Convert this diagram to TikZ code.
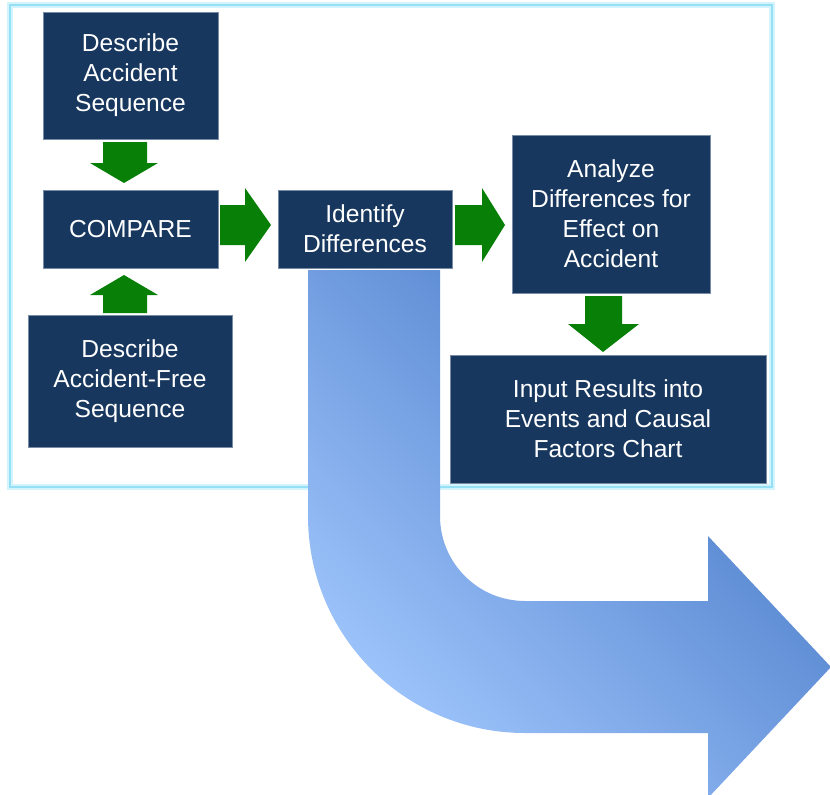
\documentclass[tikz,border=0pt]{standalone}
\usepackage{fontspec}
\setmainfont{Liberation Sans}
\definecolor{navy}{RGB}{23,55,94}
\definecolor{navyedge}{RGB}{120,140,165}
\definecolor{garrow}{RGB}{8,128,8}
\definecolor{framec}{RGB}{150,224,246}
\definecolor{frameglow}{RGB}{212,244,253}
\definecolor{blight}{RGB}{160,198,252}
\definecolor{bdark}{RGB}{68,118,197}
\begin{document}
\begin{tikzpicture}[x=1pt,y=-1pt,
  box/.style={fill=navy,draw=navyedge,line width=0.8pt,text=white,align=center,
    inner sep=0pt,font=\fontsize{24.6}{30}\selectfont},
  garr/.style={fill=garrow,draw=none}]
\useasboundingbox (0,0) rectangle (830,795);
\begin{scope}
\clip (0,0) rectangle (830,795);
% frame
\draw[frameglow,line width=6pt] (10,5) rectangle (772,487);
\draw[framec,line width=2.5pt] (10,5) rectangle (772,487);
% big bent arrow
\shade[shading=axis,bottom color=blight,top color=bdark,shading angle=-45]
  (308,270) -- (440,270) -- (440,516) arc (180:90:85) -- (708,601) -- (708,536)
  -- (831,667) -- (708,798) -- (708,733) -- (525,733) arc (90:180:217) -- cycle;
% boxes
\node[box,minimum width=175pt,minimum height=127pt] (b1) at (130.5,75.5) {Describe\\Accident\\Sequence};
\node[box,minimum width=175pt,minimum height=78pt] (cmp) at (130.5,229) {COMPARE};
\node[box,minimum width=204pt,minimum height=132pt] (b3) at (130,381) {Describe\\Accident-Free\\Sequence};
\node[box,minimum width=174pt,minimum height=78pt] (idf) at (365,229) {Identify\\Differences};
\node[box,minimum width=198pt,minimum height=158pt] (ana) at (611,214) {Analyze\\Differences for\\Effect on\\Accident};
\node[box,minimum width=316pt,minimum height=128pt] (inp) at (608,419) {Input Results into\\Events and Causal\\Factors Chart};
% green arrows
\fill[garr] (103,142) -- (147,142) -- (147,163) -- (158,163) -- (124,183) -- (90,163) -- (103,163) -- cycle;
\fill[garr] (103,313) -- (147,313) -- (147,295) -- (158,295) -- (124,275) -- (90,295) -- (103,295) -- cycle;
\fill[garr] (220,205) -- (245,205) -- (245,188) -- (271,225) -- (245,262) -- (245,245) -- (220,245) -- cycle;
\fill[garr] (455,205) -- (482,205) -- (482,188) -- (505,225) -- (482,262) -- (482,245) -- (455,245) -- cycle;
\fill[garr] (585,296) -- (622,296) -- (622,324) -- (639,324) -- (603,352) -- (568,324) -- (585,324) -- cycle;
\end{scope}
\end{tikzpicture}
\end{document}
